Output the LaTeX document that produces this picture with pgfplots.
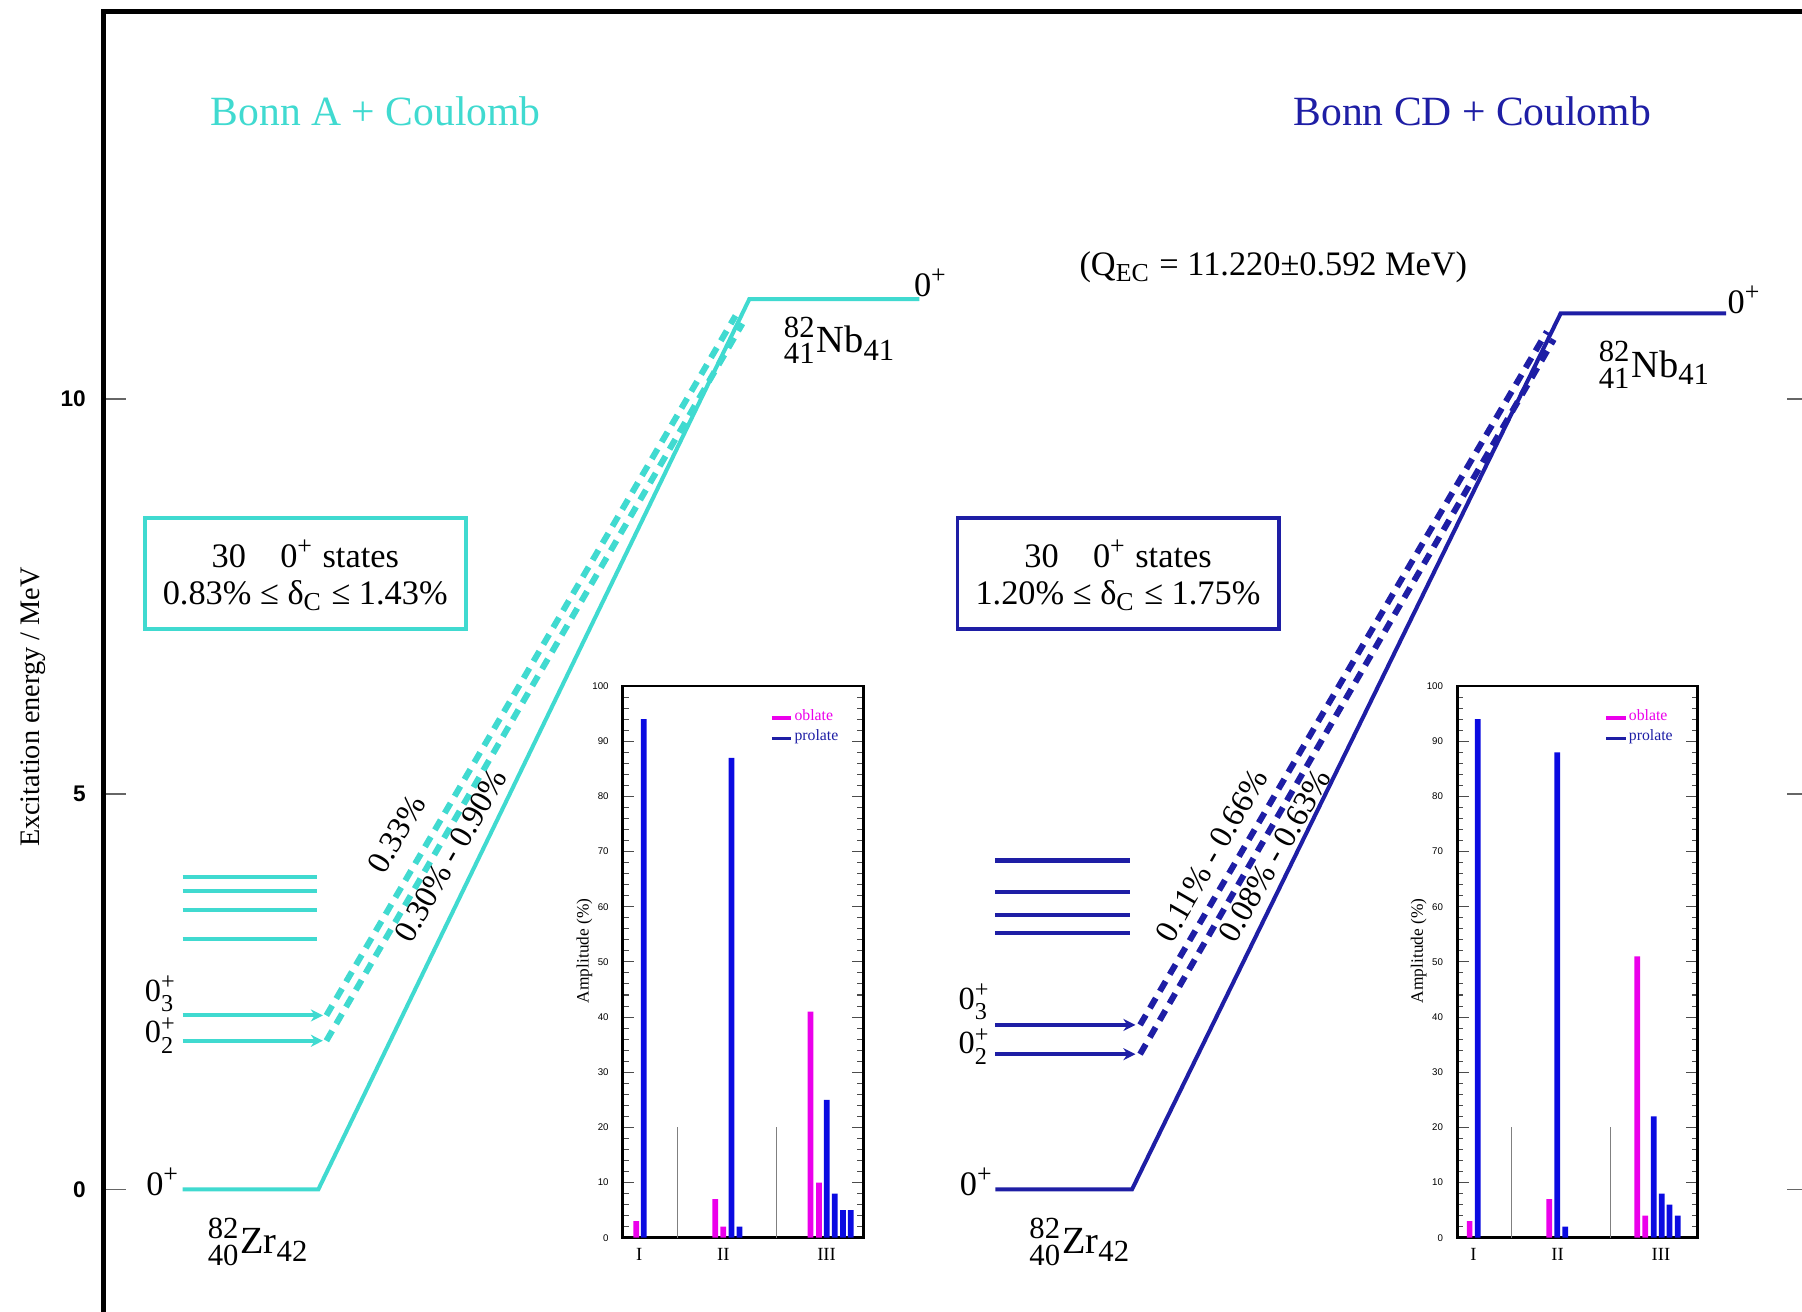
\documentclass[border=0pt]{standalone}
\usepackage{amsmath}
\usepackage{fontspec}
\setmainfont{Liberation Serif}
\setsansfont{Liberation Sans}
\DeclareMathSizes{9.5}{9.5}{7.6}{6}
\DeclareMathSizes{8.5}{8.5}{6.4}{5}
\DeclareMathSizes{8}{8}{6}{5}
\usepackage{pgfplots}
\pgfplotsset{compat=1.18}
\usetikzlibrary{arrows.meta}
\definecolor{cy}{RGB}{64,218,208}
\definecolor{nb}{RGB}{30,30,165}
\definecolor{bmag}{RGB}{235,0,235}
\definecolor{bblue}{RGB}{10,10,225}
\newcommand{\zp}{$\text{0}^{\text{+}}$}
\newcommand{\zps}[1]{$\text{0}^{\text{+}}_{\text{#1}}$}
\tikzset{lev/.style={line width=1.0pt},
  dsh/.style={line width=1.5pt, dash pattern=on 0.1cm off 0.07cm},
  arr/.style={-{Stealth[length=3pt,width=3pt]}},
  lab/.style={font=\fontsize{8.5}{10}\selectfont},
  slab/.style={font=\fontsize{8}{9}\selectfont, inner sep=0.5pt},
  nuc/.style={font=\fontsize{9.5}{11}\selectfont}}
\pgfplotsset{inset/.style={scale only axis, width=2.09cm, height=4.80cm,
  xmin=0, xmax=100, ymin=0, ymax=100, axis line style={line width=0.7pt},
  ytick={0,10,...,100}, minor y tick num=4, tick align=inside,
  major tick length=0.1cm, minor tick length=0.05cm,
  tick style={line width=0.25pt, black!70},
  xtick={6.8,41.8,84.8}, xticklabels={I,II,III}, x tick style={draw=none},
  xticklabel style={font=\fontsize{4.6}{5}\selectfont, yshift=0.03cm},
  yticklabel style={font=\sffamily\fontsize{2.4}{2.6}\selectfont, xshift=0cm},
  /pgf/number format/assume math mode=true,
  ylabel={Amplitude (\%)},
  ylabel style={font=\fontsize{4.3}{5}\selectfont, at={(axis description cs:-0.16,0.52)}, anchor=center},
  legend style={draw=none, fill=none, at={(0.61,0.962)}, anchor=north west,
    font=\fontsize{3.9}{4.4}\selectfont, inner sep=0pt, nodes={inner sep=0.4pt}},
  legend cell align=left,
  legend image code/.code={\draw[##1] (0cm,0cm) -- (0.17cm,0cm);}}}
\begin{document}
\begin{tikzpicture}
\useasboundingbox (0,0) rectangle (15.68,11.41);
\begin{axis}[scale only axis, width=14.85cm, height=11.40cm,
  at={(0.90cm,-0.09cm)}, anchor=south west,
  xmin=90, xmax=1575, ymin=-1.672, ymax=14.898,
  axis line style={line width=1.2pt}, xtick=\empty, ytick={0,5,10},
  tick align=inside, major tick length=0.2cm, tick style={black!60, line width=0.4pt},
  yticklabel style={font=\sffamily\bfseries\fontsize{5.6}{6}\selectfont, xshift=-0.03cm},
  /pgf/number format/assume math mode=true, clip=false]
% ---------- left panel (Bonn A) ----------
\addplot[cy, lev] coordinates {(159,0) (277,0) (652,11.26) (800,11.26)};
\addplot[cy, lev] coordinates {(159,3.95) (276,3.95)};
\addplot[cy, lev] coordinates {(159,3.78) (276,3.78)};
\addplot[cy, lev] coordinates {(159,3.53) (276,3.53)};
\addplot[cy, lev] coordinates {(159,3.17) (276,3.17)};
\addplot[cy, lev, arr] coordinates {(159,2.20) (281,2.20)};
\addplot[cy, lev, arr] coordinates {(159,1.88) (281,1.88)};
\addplot[cy, dsh] coordinates {(284,2.20) (640,11.05)};
\addplot[cy, dsh] coordinates {(284,1.88) (646,10.95)};
% ---------- right panel (Bonn CD) ----------
\addplot[nb, lev] coordinates {(866,0) (985,0) (1358,11.08) (1502,11.08)};
\addplot[nb, lev] coordinates {(866,4.16) (983,4.16)};
\addplot[nb, lev] coordinates {(866,3.76) (983,3.76)};
\addplot[nb, lev] coordinates {(866,3.47) (983,3.47)};
\addplot[nb, lev] coordinates {(866,3.24) (983,3.24)};
\addplot[nb, lev, arr] coordinates {(866,2.08) (988,2.08)};
\addplot[nb, lev, arr] coordinates {(866,1.71) (988,1.71)};
\addplot[nb, dsh] coordinates {(992,2.08) (1346,10.85)};
\addplot[nb, dsh] coordinates {(992,1.71) (1352,10.75)};
% ---------- texts ----------
\node[rotate=90, font=\fontsize{7}{8}\selectfont] at (axis cs:29,6.1) {Excitation energy / MeV};
\node[cy, font=\fontsize{10.3}{12}\selectfont] at (axis cs:327,13.63) {Bonn A + Coulomb};
\node[nb, font=\fontsize{10.3}{12}\selectfont] at (axis cs:1281,13.63) {Bonn CD + Coulomb};
\node[lab] at (axis cs:1108,11.66) {(Q$_{\text{EC}}$ = 11.220±0.592 MeV)};
% level labels
\node[lab] at (axis cs:142,0.10) {\zp};
\node[slab] at (axis cs:140,2.47) {\zps{3}};
\node[slab] at (axis cs:140,1.95) {\zps{2}};
\node[lab] at (axis cs:850,0.10) {\zp};
\node[slab] at (axis cs:848,2.37) {\zps{3}};
\node[slab] at (axis cs:848,1.81) {\zps{2}};
\node[lab] at (axis cs:810,11.47) {\zp};
\node[lab] at (axis cs:1518,11.25) {\zp};
% nuclei
\node[nuc] at (axis cs:731,10.74) {${}^{\text{82}}_{\text{41}}\text{Nb}_{\text{41}}$};
\node[nuc] at (axis cs:1440,10.43) {${}^{\text{82}}_{\text{41}}\text{Nb}_{\text{41}}$};
\node[nuc] at (axis cs:225,-0.66) {${}^{\text{82}}_{\text{40}}\text{Zr}_{\text{42}}$};
\node[nuc] at (axis cs:940,-0.66) {${}^{\text{82}}_{\text{40}}\text{Zr}_{\text{42}}$};
% boxes
\draw[cy, line width=0.9pt] (axis cs:126,8.49) rectangle (axis cs:405.6,7.09);
\node[lab] at (axis cs:265.6,8.04) {30\quad \zp{} states};
\node[lab] at (axis cs:265.6,7.51) {0.83\% ≤ δ$_{\text{C}}$ ≤ 1.43\%};
\draw[nb, line width=0.9pt] (axis cs:833,8.49) rectangle (axis cs:1112.7,7.09);
\node[lab] at (axis cs:972.8,8.04) {30\quad \zp{} states};
\node[lab] at (axis cs:972.8,7.51) {1.20\% ≤ δ$_{\text{C}}$ ≤ 1.75\%};
% rotated transition labels
\node[rotate=60, font=\fontsize{8}{9}\selectfont] at (axis cs:345,4.50) {0.33\%};
\node[rotate=60, font=\fontsize{8}{9}\selectfont] at (axis cs:392,4.22) {0.30\% - 0.90\%};
\node[rotate=60, font=\fontsize{8}{9}\selectfont] at (axis cs:1054,4.22) {0.11\% - 0.66\%};
\node[rotate=60, font=\fontsize{8}{9}\selectfont] at (axis cs:1109,4.22) {0.08\% - 0.63\%};
\end{axis}
% ---------- left inset ----------
\begin{axis}[inset, at={(5.42cm,0.64cm)}, anchor=south west]
\addplot[gray, line width=0.25pt, forget plot] coordinates {(22.7,0) (22.7,20)};
\addplot[gray, line width=0.25pt, forget plot] coordinates {(63.9,0) (63.9,20)};
\addplot[ybar, bar width=0.05cm, bar shift=0pt, fill=bmag, draw=none, forget plot]
  coordinates {(5.54,3) (38.5,7) (41.8,2) (78.1,41) (81.6,10)};
\addplot[ybar, bar width=0.05cm, bar shift=0pt, fill=bblue, draw=none, forget plot]
  coordinates {(8.73,94) (45.2,87) (48.5,2) (84.9,25) (88.2,8) (91.6,5) (94.9,5)};
\addlegendimage{bmag, line width=0.8pt}
\addlegendentry{\textcolor{bmag}{oblate}}
\addlegendimage{nb, line width=0.8pt}
\addlegendentry{\textcolor{nb}{prolate}}
\end{axis}
% ---------- right inset ----------
\begin{axis}[inset, at={(12.68cm,0.64cm)}, anchor=south west]
\addplot[gray, line width=0.25pt, forget plot] coordinates {(22.4,0) (22.4,20)};
\addplot[gray, line width=0.25pt, forget plot] coordinates {(63.8,0) (63.8,20)};
\addplot[ybar, bar width=0.05cm, bar shift=0pt, fill=bmag, draw=none, forget plot]
  coordinates {(5.15,3) (38.3,7) (74.9,51) (78.3,4)};
\addplot[ybar, bar width=0.05cm, bar shift=0pt, fill=bblue, draw=none, forget plot]
  coordinates {(8.5,94) (41.6,88) (45.0,2) (81.8,22) (85.1,8) (88.4,6) (91.8,4)};
\addlegendimage{bmag, line width=0.8pt}
\addlegendentry{\textcolor{bmag}{oblate}}
\addlegendimage{nb, line width=0.8pt}
\addlegendentry{\textcolor{nb}{prolate}}
\end{axis}
\end{tikzpicture}
\end{document}
